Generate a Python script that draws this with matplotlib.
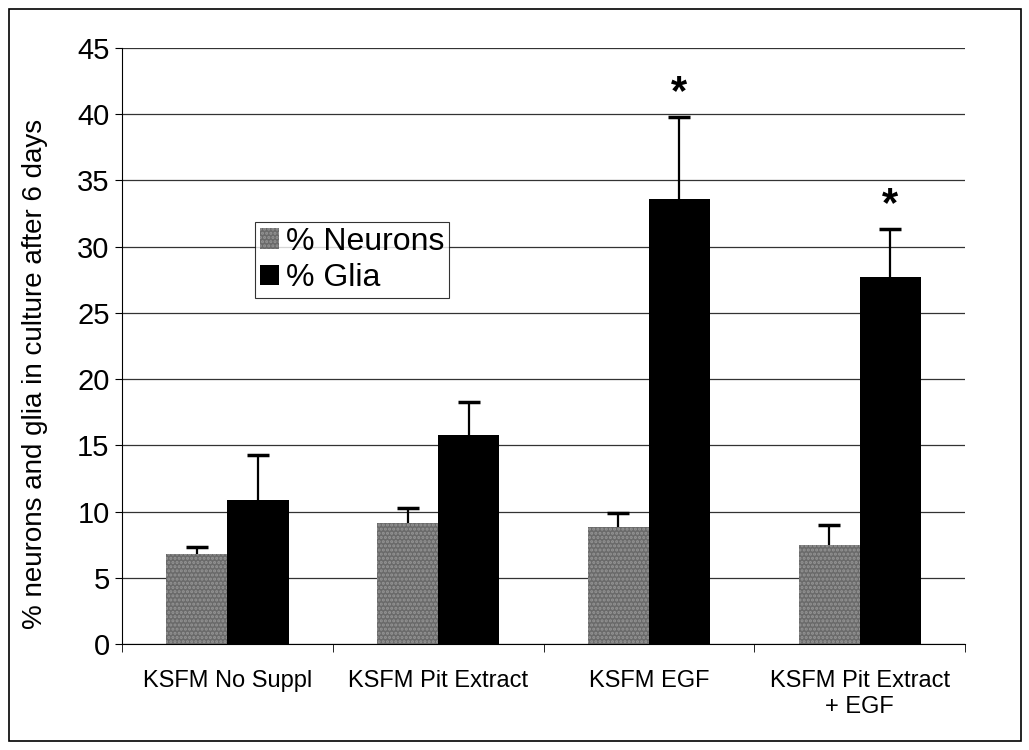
import numpy as np
import matplotlib.pyplot as plt
from matplotlib.patches import Rectangle

categories = ["KSFM No Suppl", "KSFM Pit Extract", "KSFM EGF", "KSFM Pit Extract\n+ EGF"]
neurons = [6.8, 9.1, 8.8, 7.5]
neurons_err = [0.5, 1.2, 1.1, 1.5]
glia = [10.9, 15.8, 33.6, 27.7]
glia_err = [3.4, 2.5, 6.2, 3.6]
significant = [False, False, True, True]

plt.rcParams['font.family'] = ['Liberation Sans', 'DejaVu Sans']
plt.rcParams['hatch.linewidth'] = 1.5

fig = plt.figure(figsize=(10.29, 7.5), dpi=100)
ax = fig.add_axes([0.1186, 0.1413, 0.8192, 0.7947])

# border round the whole figure
fig.patches.append(Rectangle((0.009, 0.012), 0.983, 0.976, transform=fig.transFigure,
                             fill=False, edgecolor='black', linewidth=1.2))

x = np.arange(len(categories))
w = 0.29

ax.bar(x - w / 2, neurons, width=w, color='#6a6a6a', edgecolor='#959595', linewidth=0,
       hatch='....', label='% Neurons', zorder=3)
ax.bar(x + w / 2, glia, width=w, color='black', label='% Glia', zorder=3)

# upward error bars only, cap on top
for xs, vals, errs in [(x - w / 2, neurons, neurons_err), (x + w / 2, glia, glia_err)]:
    ax.errorbar(xs, vals, yerr=[np.zeros(4), errs], fmt='none',
                ecolor='black', elinewidth=1.6, capsize=0, zorder=4)
    ax.plot(xs, np.array(vals) + np.array(errs), linestyle='none', marker='_',
            markersize=16, markeredgewidth=2.5, color='black', zorder=4)

for i in range(len(categories)):
    if significant[i]:
        ax.text(x[i] + w / 2, glia[i] + glia_err[i] + 0.3, '*', ha='center', va='bottom',
                fontsize=30, fontweight='bold')

ax.set_xlim(-0.5, 3.5)
ax.set_ylim(0, 45)
ax.set_yticks(np.arange(0, 46, 5))
ax.set_xticks(x)
ax.set_xticklabels(categories, fontsize=17)
ax.set_xticks(np.arange(-0.5, 4, 1), minor=True)
ax.tick_params(axis='x', which='major', length=0, pad=19)
ax.tick_params(axis='x', which='minor', length=6, direction='out')
ax.tick_params(axis='y', labelsize=21, length=5, direction='out', pad=4)
ax.set_ylabel('% neurons and glia in culture after 6 days', fontsize=20)
ax.yaxis.set_label_coords(-0.088, 0.453)

ax.grid(axis='y', color='#333333', linewidth=0.9, zorder=0)
ax.spines['top'].set_visible(False)
ax.spines['right'].set_visible(False)

leg = ax.legend(loc='upper left', bbox_to_anchor=(0.158, 0.708), fontsize=23,
                frameon=True, fancybox=False, edgecolor='black', handlelength=0.6,
                handleheight=0.6, handletextpad=0.2, borderpad=0.15, labelspacing=0.2,
                borderaxespad=0)
leg.get_frame().set_linewidth(0.8)

fig.savefig('out.png', dpi=100)
